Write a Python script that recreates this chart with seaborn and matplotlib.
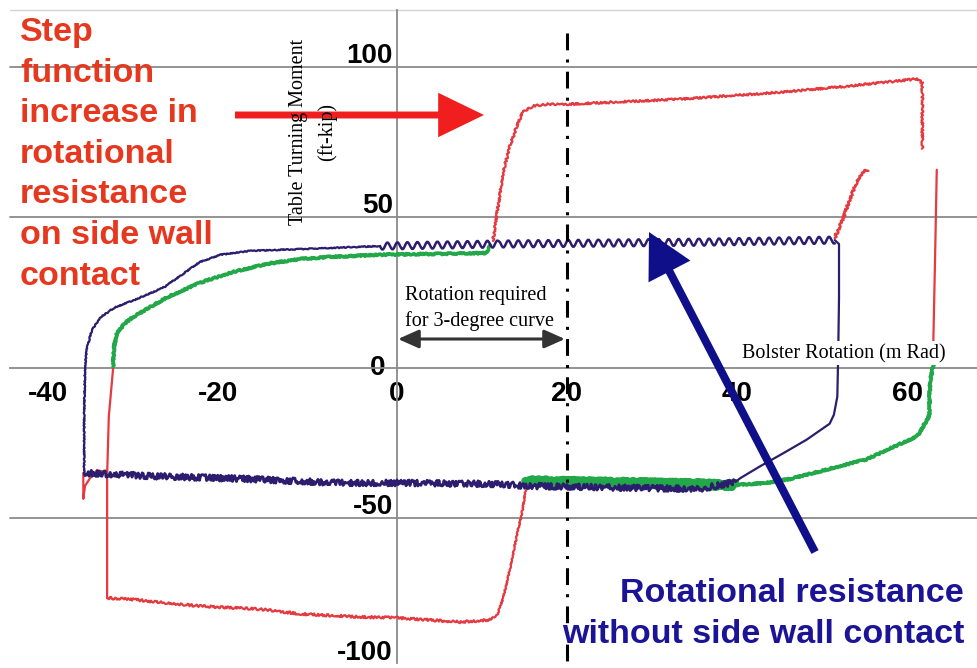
import numpy as np
import pandas as pd
import seaborn as sns
import matplotlib.pyplot as plt
from matplotlib.transforms import ScaledTranslation

# ---- data (x: bolster rotation, mRad; y: moment, ft-kip) ----
blue_rise_x = [-36.8, -36.8, -36.7, -36.5, -35.9, -34.9, -33.2, -30.8, -29.1, -27.3, -25.5, -23.2, -20.8, -17.3, -11.4, -2.0]
blue_rise_y = [-35.1, -16.3, 0.2, 6.1, 12.4, 16.7, 20.0, 22.6, 24.6, 26.9, 30.5, 35.1, 37.5, 38.8, 39.4, 40.4]
blue_wave_x = [-2.0, 12.1, 23.9, 35.6, 51.5]
blue_wave_y = [40.4, 41.1, 41.4, 41.7, 42.4]
blue_drop_x = [51.5, 52.0, 52.0, 51.9, 51.8, 51.4, 50.9, 48.2, 45.4, 42.7, 40.4, 39.8]
blue_drop_y = [42.4, 41.1, 23.3, 3.5, -9.7, -15.7, -18.7, -24.0, -28.6, -32.9, -36.8, -38.1]
blue_flat_x = [-36.8, -29.1, -17.3, -6.7, 0.0, 12.1, 15.3, 28.6, 35.6, 39.8]
blue_flat_y = [-35.1, -36.1, -37.1, -38.4, -38.4, -38.8, -39.4, -40.1, -40.4, -38.1]

green_rise_x = [-33.4, -33.3, -32.9, -32.0, -31.1, -29.1, -27.1, -23.2, -19.3, -15.3, -11.4, -7.9, -2.0, 10.6, 10.9]
green_rise_y = [0.2, 6.8, 11.7, 14.7, 16.7, 20.0, 23.3, 28.2, 31.8, 34.5, 36.1, 36.8, 37.5, 38.1, 40.8]
green_flat_x = [15.1, 27.4, 39.8]
green_flat_y = [-37.8, -38.4, -39.1]
green_back_x = [39.8, 43.5, 46.2, 49.4, 52.1, 55.3, 58.0, 61.2, 62.6, 62.7, 63.1]
green_back_y = [-39.1, -38.4, -37.1, -34.8, -32.8, -30.5, -26.9, -22.9, -16.3, -4.8, 0.8]

red_left_x = [-33.4, -33.9, -34.1, -34.1]
red_left_y = [-0.5, -16.3, -36.1, -76.7]
red_bottom_x = [-34.1, -31.4, -27.9, -23.2, -16.1, -11.4, -4.4, 0.0, 7.4, 10.9]
red_bottom_y = [-76.7, -77.1, -78.1, -79.4, -80.4, -82.0, -83.0, -83.3, -84.7, -84.0]
red_climb_x = [10.9, 11.8, 12.5, 13.3, 14.1, 14.7, 15.1, 15.3]
red_climb_y = [-84.0, -82.3, -76.7, -66.8, -55.9, -48.3, -41.7, -39.4]
red_hook_x = [-36.9, -36.9, -36.7, -36.1, -35.3, -34.1]
red_hook_y = [-35.1, -43.7, -39.4, -36.8, -34.2, -34.8]
red_top_x = [11.3, 11.8, 12.5, 13.3, 14.1, 14.8, 16.0, 17.6, 20.0, 25.4, 33.3, 45.1, 52.9, 60.7, 61.3, 61.8, 61.8]
red_top_y = [42.1, 52.0, 65.2, 73.8, 80.4, 85.0, 87.0, 87.6, 87.6, 88.3, 89.3, 91.6, 93.6, 95.9, 95.9, 94.6, 72.8]
red_kick_x = [51.5, 52.5, 53.3, 54.1, 54.8, 55.4]
red_kick_y = [43.1, 49.7, 56.3, 61.9, 65.2, 65.8]
red_right_x = [63.5, 63.3, 63.1, 62.9]
red_right_y = [65.8, 36.5, 9.1, 1.2]

x_ticks = [-40, -20, 0, 20, 40, 60]
y_ticks = [-100, -50, 0, 50, 100]
curve_required = [0, 20]   # rotation required for 3-degree curve

RED = '#e43a40'
BLUE = '#2c1d6e'
GREEN = '#22a848'

sns.set_theme(style="white")
plt.rcParams['axes.unicode_minus'] = False

fig = plt.figure(figsize=(9.78, 6.68), dpi=100)
ax = fig.add_axes([0, 0, 1, 1])
ax.set_facecolor('white')


def trace(xs, ys, color, lw, sketch=None, z=3):
    df = pd.DataFrame({'x': xs, 'y': ys})
    sns.lineplot(data=df, x='x', y='y', sort=False, estimator=None,
                 color=color, linewidth=lw, ax=ax, zorder=z)
    line = ax.lines[-1]
    line.set_solid_joinstyle('round')
    if sketch is not None:
        line.set_sketch_params(*sketch)
    return line


# gridlines
for yv in [-50, 50, 100]:
    ax.axhline(yv, xmin=10 / 978, color='#8a8a8a', lw=1.3, zorder=1)
ax.axhline(119.0, xmin=10 / 978, color='#d4d4d4', lw=1.0, zorder=1)

# curves
trace(green_rise_x, green_rise_y, GREEN, 2.6, (0.8, 3, 3))
trace(green_flat_x, green_flat_y, GREEN, 6.0, (2.0, 2, 3))
trace(green_back_x, green_back_y, GREEN, 2.6, (0.8, 3, 3))
trace(blue_flat_x, blue_flat_y, BLUE, 2.0, (3.0, 2, 3), z=3.5)
trace(blue_rise_x, blue_rise_y, BLUE, 1.6, (0.5, 3, 3))
trace(blue_wave_x, blue_wave_y, BLUE, 1.8, (3.5, 10, 1))
trace(blue_drop_x, blue_drop_y, BLUE, 1.6)
trace(red_left_x, red_left_y, RED, 1.6)
trace(red_bottom_x, red_bottom_y, RED, 1.6, (1.2, 4, 3))
trace(red_climb_x, red_climb_y, RED, 1.6, (0.6, 4, 3))
trace(red_hook_x, red_hook_y, RED, 1.6)
trace(red_top_x, red_top_y, RED, 1.6, (1.0, 4, 3))
trace(red_kick_x, red_kick_y, RED, 1.8, (1.2, 4, 3))
trace(red_right_x, red_right_y, RED, 1.6)

# dash-dot line at the required rotation
ax.plot([curve_required[1]] * 2, [111.4, -98.2], color='black', lw=2.2,
        linestyle=(0, (5.5, 3, 1, 3)), zorder=4)

# axes
ax.set_xlim(-46.7, 68.35)
ax.set_ylim(-98.2, 122.3)
for s in ['top', 'right']:
    ax.spines[s].set_visible(False)
ax.spines['left'].set_position(('data', 0))
ax.spines['bottom'].set_position(('data', 0))
ax.spines['left'].set_bounds(-98.2, 119.0)
ax.spines['bottom'].set_bounds(-45.5, 68.35)
for s in ['left', 'bottom']:
    ax.spines[s].set_color('#8a8a8a')
    ax.spines[s].set_linewidth(1.3)
    ax.spines[s].set_zorder(1)

tick_font = dict(fontsize=20, fontweight='bold', fontfamily='Liberation Sans', color='black')
ax.set_xticks(x_ticks, labels=[str(v) for v in x_ticks], **tick_font)
ax.set_yticks(y_ticks, labels=[str(v) for v in y_ticks], **tick_font)
ax.tick_params(axis='x', length=3, width=1, color='#8a8a8a', direction='inout', pad=8)
ax.tick_params(axis='y', length=0, pad=3)
ax.set_xlabel('')
ax.set_ylabel('')

for v, lab in zip(x_ticks, ax.get_xticklabels()):
    if v < 0:
        lab.set_transform(lab.get_transform() + ScaledTranslation(-0.09, 0, fig.dpi_scale_trans))
for v, lab in zip(y_ticks, ax.get_yticklabels()):
    if v == 0:
        lab.set_verticalalignment('center')
        lab.set_transform(lab.get_transform() + ScaledTranslation(-0.07, 0, fig.dpi_scale_trans))
    elif v == -100:
        lab.set_verticalalignment('baseline')
        lab.set_transform(lab.get_transform() + ScaledTranslation(0, 0.075, fig.dpi_scale_trans))
    else:
        lab.set_verticalalignment('baseline')
        lab.set_transform(lab.get_transform() + ScaledTranslation(0, 0.04, fig.dpi_scale_trans))

H = 668.0
W = 978.0
serif = 'Liberation Serif'

# axis titles
fig.text(313 / W, 1 - 132 / H, 'Table Turning Moment\n(ft-kip)', rotation=90,
         ha='center', va='center', multialignment='center', family=serif,
         fontsize=14.5, linespacing=1.65, color='black', zorder=6)
fig.text(742 / W, 1 - 358 / H, 'Bolster Rotation (m Rad)', ha='left', va='baseline',
         family=serif, fontsize=14.5, color='black', zorder=6,
         bbox=dict(boxstyle='square,pad=0.12', fc='white', ec='none'))
fig.text(405 / W, 1 - 286 / H, 'Rotation required\nfor 3-degree curve', ha='left', va='top',
         family=serif, fontsize=14.5, linespacing=1.43, color='black', zorder=6)

# callouts
fig.text(20 / W, 1 - 17 / H,
         'Step\nfunction\nincrease in\nrotational\nresistance\non side wall\ncontact',
         ha='left', va='top', family='Liberation Sans', fontweight='bold',
         fontsize=24.5, linespacing=1.40, color='#e6381e', zorder=6)
fig.text(964 / W, 1 - 578 / H, 'Rotational resistance\nwithout side wall contact',
         ha='right', va='top', multialignment='right', family='Liberation Sans',
         fontweight='bold', fontsize=24.5, linespacing=1.40, color='#1b1496', zorder=6)

# arrows
ax.annotate('', xy=(484, H - 115), xytext=(235, H - 115),
            xycoords='figure pixels', textcoords='figure pixels',
            arrowprops=dict(arrowstyle='simple,head_length=33,head_width=32,tail_width=5',
                            mutation_scale=1, fc='#f01e1e', ec='none', shrinkA=0, shrinkB=0),
            zorder=5)
ax.annotate('', xy=(649, H - 232), xytext=(815, H - 552),
            xycoords='figure pixels', textcoords='figure pixels',
            arrowprops=dict(arrowstyle='simple,head_length=32,head_width=34,tail_width=5.8',
                            mutation_scale=1, fc='#0f0f8a', ec='none', shrinkA=0, shrinkB=0),
            zorder=5)
ax.annotate('', xy=(565, H - 339), xytext=(398, H - 339),
            xycoords='figure pixels', textcoords='figure pixels',
            arrowprops=dict(arrowstyle='<|-|>,head_length=0.9,head_width=0.4',
                            mutation_scale=14, lw=2.2, color='#333333', shrinkA=0, shrinkB=0),
            zorder=5)

fig.savefig('out.png', dpi=100, facecolor='white')
